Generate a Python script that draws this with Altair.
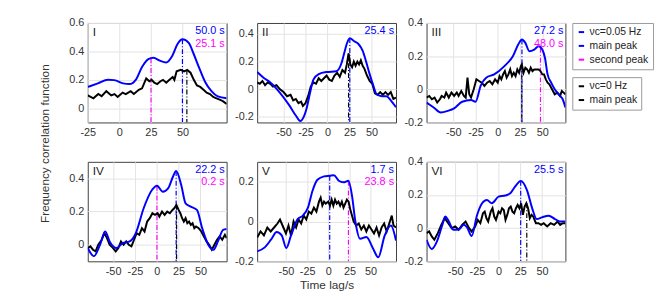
import altair as alt
import pandas as pd

# ---------------- data ----------------
LEGEND_A_KEYS = ["\u03bdc=0.05 Hz", "main peak", "second peak"]
LEGEND_A_COLORS = ["#0000ff", "#0000ff", "#ff00ff"]
LEGEND_B_KEYS = ["\u03bdc=0 Hz", "main peak"]
LEGEND_B_COLORS = ["#000000", "#000000"]

P1_BLUE = [(-25, 0.15), (-17, 0.175), (-9, 0.2), (-4, 0.198), (3, 0.175), (8, 0.17), (13, 0.2),
           (18, 0.29), (23, 0.345), (27, 0.355), (32, 0.335), (37, 0.322), (42, 0.37), (46, 0.45),
           (50, 0.485), (55, 0.46), (59, 0.38), (63, 0.29), (68, 0.185), (73, 0.12), (78, 0.083), (85, 0.07)]
P1_BLACK = [(-25, 0.09), (-20.5, 0.07), (-16.7, 0.1), (-14, 0.085), (-10.3, 0.12), (-6.4, 0.09), (-3.8, 0.1),
            (-1.3, 0.08), (2.6, 0.11), (5.1, 0.1), (9, 0.12), (11.5, 0.1), (15.4, 0.13), (18, 0.14),
            (21.3, 0.21), (23.8, 0.19), (25.6, 0.2), (27.7, 0.18), (30, 0.17), (32.6, 0.19), (34.6, 0.2),
            (37.2, 0.18), (39.7, 0.2), (42.3, 0.22), (43.6, 0.2), (45.4, 0.26), (48.7, 0.27), (51.3, 0.26),
            (53.8, 0.27), (56.4, 0.25), (59, 0.2), (61.5, 0.16), (64.1, 0.15), (66.7, 0.13), (69.2, 0.11),
            (71.8, 0.1), (74.4, 0.08), (77, 0.07), (79.5, 0.06), (82, 0.05), (85, 0.03)]
P1_PEAKS = [(25.1, 0.352, "second peak"), (50.0, 0.485, "main peak")]
P1_BPEAK = [(53.5, 0.27)]
P1_TEXT = [("50.0 s", "#0000ff"), ("25.1 s", "#ff00ff")]

P2_BLUE = [(-80, 0.125), (-72, 0.08), (-65, 0.05), (-54, -0.025), (-43, -0.12), (-36, -0.19), (-31, -0.23),
           (-27, -0.2), (-24, -0.145), (-20, -0.03), (-16, 0.07), (-10, 0.11), (-1, 0.125), (10, 0.13),
           (16, 0.19), (19, 0.26), (22, 0.33), (25.4, 0.37), (30, 0.35), (35, 0.33), (40, 0.28), (44, 0.2),
           (48, 0.11), (52, 0.03), (56, -0.036), (62, -0.05), (67, -0.05), (72, -0.08), (78, -0.13)]
P2_BLACK = [(-80, 0.05), (-77, 0.04), (-74, 0.06), (-71, 0.03), (-68, 0.05), (-65, 0.04), (-62, 0.02),
            (-58, 0.03), (-54, 0.0), (-50, -0.02), (-46, -0.05), (-42, -0.04), (-39, -0.08), (-36, -0.07),
            (-33, -0.1), (-30, -0.09), (-28, -0.12), (-25, -0.1), (-22, -0.05), (-19, 0.02), (-16, 0.05),
            (-13, 0.04), (-10, 0.08), (-7, 0.06), (-4, 0.08), (-1, 0.1), (2, 0.07), (5, 0.06), (8, 0.1),
            (11, 0.12), (14, 0.09), (17, 0.14), (20, 0.12), (22, 0.18), (24, 0.26), (26, 0.18), (28, 0.16),
            (30, 0.2), (32, 0.17), (34, 0.2), (36, 0.18), (38, 0.21), (40, 0.17), (42, 0.15), (45, 0.1),
            (48, 0.06), (51, 0.04), (54, -0.03), (57, -0.04), (60, -0.02), (63, -0.04), (66, -0.02),
            (69, -0.04), (72, -0.02), (75, -0.07), (78, -0.06)]
P2_PEAKS = [(25.4, 0.37, "main peak")]
P2_BPEAK = [(24.0, 0.26)]
P2_TEXT = [("25.4 s", "#0000ff")]

P3_BLUE = [(-80, -0.08), (-72, -0.11), (-64, -0.14), (-56, -0.13), (-49, -0.115), (-40, -0.075), (-30, -0.065),
           (-25, -0.075), (-19, 0.024), (-13, 0.07), (-4, 0.09), (7.5, 0.14), (17, 0.2), (23, 0.27),
           (27.2, 0.3), (31, 0.28), (35.5, 0.23), (41, 0.24), (46, 0.26), (50, 0.24), (53, 0.19), (56, 0.09),
           (60, 0.04), (64, 0.0), (70, -0.04), (73, -0.06), (76, -0.11)]
P3_BLACK = [(-80, -0.05), (-77, -0.04), (-74, -0.06), (-71, -0.05), (-68, -0.08), (-65, -0.06), (-63, -0.04),
            (-60, -0.05), (-58, -0.02), (-55, -0.05), (-52, -0.02), (-49, -0.04), (-46, -0.02), (-44, -0.04),
            (-41, -0.01), (-38, -0.04), (-36, -0.05), (-34, 0.07), (-32, -0.03), (-30, -0.05), (-27, 0.0),
            (-24, 0.06), (-21, 0.05), (-18, 0.04), (-15, 0.02), (-12, 0.04), (-9, 0.05), (-6, 0.03),
            (-3, 0.06), (0, 0.04), (2, 0.08), (4, 0.06), (6, 0.09), (8, 0.11), (10, 0.07), (12, 0.09),
            (14, 0.12), (16, 0.08), (18, 0.1), (20, 0.08), (22, 0.12), (24, 0.1), (26, 0.14), (27, 0.15),
            (29, 0.1), (31, 0.13), (33, 0.12), (35, 0.1), (37, 0.13), (39, 0.11), (41, 0.12), (43, 0.12),
            (46, 0.12), (48, 0.11), (50, 0.09), (52, 0.09), (54, 0.06), (56, 0.04), (58, 0.03), (61, 0.0),
            (64, -0.03), (67, -0.02), (70, -0.04), (72, -0.01), (74, -0.02), (76, -0.03)]
P3_PEAKS = [(27.2, 0.3, "main peak"), (48.0, 0.25, "second peak")]
P3_BPEAK = [(27.0, 0.15)]
P3_TEXT = [("27.2 s", "#0000ff"), ("48.0 s", "#ff00ff")]

P4_BLUE = [(-79, -0.02), (-72, -0.07), (-65, 0.0), (-59, 0.08), (-54, 0.02), (-46, -0.02), (-39, 0.01),
           (-31, 0.02), (-24, 0.07), (-15, 0.22), (-5.5, 0.33), (0.2, 0.356), (7, 0.32), (13, 0.34),
           (18.5, 0.41), (22.2, 0.445), (28, 0.36), (33, 0.25), (39, 0.23), (46, 0.21), (52, 0.1),
           (59, 0.0), (65, -0.03), (70, 0.02), (76, 0.09), (80, 0.095)]
P4_BLACK = [(-79, -0.02), (-76, -0.01), (-73, -0.03), (-70, -0.04), (-67, 0.0), (-63, 0.03), (-60, 0.07),
            (-57, 0.04), (-54, 0.0), (-50, -0.02), (-47, -0.04), (-44, -0.02), (-41, 0.02), (-38, 0.0),
            (-35, 0.02), (-32, 0.0), (-29, -0.01), (-26, 0.03), (-23, 0.07), (-20, 0.06), (-17, 0.1),
            (-14, 0.08), (-11, 0.14), (-8, 0.16), (-5, 0.19), (-2, 0.18), (1, 0.19), (3, 0.17), (6, 0.2),
            (9, 0.18), (12, 0.2), (15, 0.19), (18, 0.21), (20, 0.22), (22.5, 0.24), (25, 0.21), (27, 0.19),
            (29, 0.16), (31, 0.14), (33, 0.16), (35, 0.13), (37, 0.14), (39, 0.12), (41, 0.13), (43, 0.1),
            (45, 0.11), (48, 0.1), (51, 0.08), (54, 0.05), (57, 0.02), (60, 0.0), (63, -0.03), (66, 0.0),
            (69, 0.03), (72, 0.05), (75, 0.03), (78, 0.06), (80, 0.04)]
P4_PEAKS = [(0.2, 0.356, "second peak"), (22.2, 0.445, "main peak")]
P4_BPEAK = [(22.7, 0.24)]
P4_TEXT = [("22.2 s", "#0000ff"), ("0.2 s", "#ff00ff")]

P5_BLUE = [(-84, -0.15), (-75, -0.13), (-67, -0.087), (-61, -0.053), (-55, -0.07), (-49.6, -0.133),
           (-44, -0.07), (-36, 0.013), (-30, 0.03), (-24, 0.07), (-18.6, 0.155), (-12.8, 0.21), (-5, 0.227),
           (1.7, 0.23), (6.6, 0.233), (12.4, 0.205), (18, 0.197), (23.8, 0.205), (28, 0.13), (32, 0.0),
           (37.6, -0.087), (45, -0.078), (53, -0.137), (59, -0.18), (66.7, -0.07), (74, -0.02), (80, -0.095)]
P5_BLACK = [(-84, -0.08), (-80, -0.05), (-76, -0.07), (-72, -0.03), (-68, -0.05), (-64, -0.03), (-60, -0.01),
            (-57, 0.01), (-53, -0.03), (-50, -0.06), (-47, -0.02), (-44, -0.07), (-41, 0.0), (-38, -0.03),
            (-35, 0.01), (-32, -0.01), (-29, 0.03), (-26, 0.01), (-23, 0.05), (-20, 0.04), (-17, 0.07),
            (-14, 0.05), (-11, 0.1), (-9, 0.12), (-7, 0.08), (-5, 0.1), (-3, 0.09), (0, 0.1), (2, 0.08),
            (4, 0.11), (6, 0.08), (8, 0.11), (10, 0.09), (12, 0.1), (14, 0.08), (16, 0.1), (18, 0.07),
            (20, 0.09), (22, 0.11), (24, 0.1), (26, 0.06), (28, 0.03), (30, 0.0), (33, -0.02), (36, -0.01),
            (39, -0.04), (42, -0.02), (45, -0.05), (48, -0.02), (51, -0.04), (54, -0.06), (57, -0.03),
            (60, -0.07), (63, -0.03), (66, -0.01), (69, -0.05), (72, -0.01), (75, 0.03), (77, -0.02), (80, -0.03)]
P5_PEAKS = [(1.7, 0.23, "main peak"), (23.8, 0.205, "second peak")]
P5_BPEAK = []
P5_TEXT = [("1.7 s", "#0000ff"), ("23.8 s", "#ff00ff")]

P6_BLUE = [(-83, -0.07), (-77, -0.126), (-71, -0.08), (-65, 0.016), (-61.5, 0.07), (-57.7, 0.045), (-52, -0.01),
           (-46, -0.008), (-40, 0.02), (-36.5, 0.006), (-31, -0.047), (-25, 0.075), (-19, 0.15), (-13.5, 0.17),
           (-7.7, 0.15), (0, 0.19), (7.7, 0.197), (13.5, 0.21), (19, 0.25), (25.5, 0.285), (32.7, 0.23),
           (38.5, 0.124), (44, 0.055), (50, 0.065), (57.7, 0.075), (65, 0.055), (71, 0.04), (77, 0.04)]
P6_BLACK = [(-83, -0.03), (-80, -0.02), (-77, -0.05), (-74, -0.07), (-70, -0.03), (-66, 0.02), (-62, 0.06),
            (-58, 0.03), (-54, 0.0), (-50, 0.01), (-46, -0.01), (-42, 0.02), (-38, 0.04), (-34, 0.0),
            (-31, -0.02), (-27, 0.01), (-24, 0.05), (-21, 0.03), (-18, 0.09), (-16, 0.1), (-14, 0.06),
            (-12, 0.04), (-9, 0.1), (-7, 0.12), (-5, 0.07), (-3, 0.05), (0, 0.1), (2, 0.09), (4, 0.12),
            (6, 0.11), (8, 0.05), (10, 0.08), (12, 0.12), (14, 0.13), (16, 0.1), (18, 0.09), (20, 0.12),
            (22, 0.14), (24, 0.12), (26, 0.15), (28, 0.08), (30, 0.13), (32, 0.15), (34, 0.12), (36, 0.06),
            (38, 0.08), (40, 0.07), (43, 0.03), (46, 0.03), (49, 0.02), (52, 0.03), (56, 0.01), (60, 0.03),
            (64, 0.02), (68, 0.04), (71, 0.02), (74, 0.03), (77, 0.03)]
P6_PEAKS = [(25.5, 0.285, "main peak")]
P6_BPEAK = [(32.5, 0.15)]
P6_TEXT = [("25.5 s", "#0000ff")]

PANEL_NAMES = ["I", "II", "III", "IV", "V", "VI"]
X_DOMAINS = [[-25, 85], [-80, 78], [-80, 76], [-79, 80], [-84, 80], [-83, 77]]
Y_DOMAINS = [[-0.1, 0.6], [-0.24, 0.48], [-0.2, 0.4], [-0.1, 0.5], [-0.2, 0.3], [-0.2, 0.4]]
X_TICKS = [[-25, 0, 25, 50], [-50, -25, 0, 25, 50], [-50, -25, 0, 25, 50],
           [-50, -25, 0, 25, 50], [-50, -25, 0, 25, 50], [-50, -25, 0, 25, 50]]
Y_TICKS = [[0, 0.2, 0.4, 0.6], [-0.2, 0, 0.2, 0.4], [-0.2, 0, 0.2, 0.4],
           [0, 0.2, 0.4], [-0.2, 0, 0.2], [-0.2, 0, 0.2, 0.4]]

BLUES = [P1_BLUE, P2_BLUE, P3_BLUE, P4_BLUE, P5_BLUE, P6_BLUE]
BLACKS = [P1_BLACK, P2_BLACK, P3_BLACK, P4_BLACK, P5_BLACK, P6_BLACK]
PEAKS = [P1_PEAKS, P2_PEAKS, P3_PEAKS, P4_PEAKS, P5_PEAKS, P6_PEAKS]
BPEAKS = [P1_BPEAK, P2_BPEAK, P3_BPEAK, P4_BPEAK, P5_BPEAK, P6_BPEAK]
TEXTS = [P1_TEXT, P2_TEXT, P3_TEXT, P4_TEXT, P5_TEXT, P6_TEXT]

W, H = 141, 101
FONT = "Liberation Sans"
AXIS_COLOR = "#333333"
DASHDOT = [5, 2, 1, 2]

scale_a = alt.Scale(domain=LEGEND_A_KEYS, range=LEGEND_A_COLORS)
scale_b = alt.Scale(domain=LEGEND_B_KEYS, range=LEGEND_B_COLORS)
legend_a = alt.Legend(title=None, symbolType="stroke", orient="right")
legend_b = alt.Legend(title=None, symbolType="stroke", orient="right")


def make_panel(i):
    blue = pd.DataFrame(BLUES[i], columns=["lag", "val"])
    blue["s"] = LEGEND_A_KEYS[0]
    black = pd.DataFrame(BLACKS[i], columns=["lag", "val"])
    black["s"] = LEGEND_B_KEYS[0]
    peaks = pd.DataFrame(PEAKS[i], columns=["lag", "val", "s"])
    bpeaks = pd.DataFrame(BPEAKS[i], columns=["lag", "val"])
    bpeaks["s"] = LEGEND_B_KEYS[1]

    x_axis = dict(values=X_TICKS[i], grid=True, labelExpr="'' + datum.value", title=None)
    y_axis = dict(values=Y_TICKS[i], grid=True, labelExpr="'' + datum.value", title=None)
    if i == 4:
        x_axis["title"] = "Time lag/s"
    if i == 0:
        y_axis.update(title="Frequency correlation function", titleX=-37, titleY=122)

    x = alt.X("lag:Q", scale=alt.Scale(domain=X_DOMAINS[i], nice=False, zero=False),
              axis=alt.Axis(**x_axis))
    y = alt.Y("val:Q", scale=alt.Scale(domain=Y_DOMAINS[i], nice=False, zero=False),
              axis=alt.Axis(**y_axis))
    col_a = alt.Color("s:N", scale=scale_a, legend=legend_a)
    col_b = alt.Stroke("s:N", scale=scale_b, legend=legend_b)

    layers = []
    layers.append(alt.Chart(peaks).mark_rule(strokeDash=DASHDOT, strokeWidth=1.2, clip=True).encode(
        x=x, y=y, y2=alt.value(H), color=col_a))
    if len(bpeaks):
        layers.append(alt.Chart(bpeaks).mark_rule(strokeDash=DASHDOT, strokeWidth=1.2, clip=True).encode(
            x=x, y=y, y2=alt.value(H), stroke=col_b))
    layers.append(alt.Chart(black).mark_line(strokeWidth=2, clip=True).encode(x=x, y=y, stroke=col_b))
    layers.append(alt.Chart(blue).mark_line(strokeWidth=2, interpolate="monotone", clip=True).encode(
        x=x, y=y, color=col_a))

    name = alt.Chart(pd.DataFrame({"t": [PANEL_NAMES[i]]})).mark_text(
        align="left", baseline="middle", fontSize=12, color="#222222", font=FONT).encode(
        text="t:N", x=alt.value(5), y=alt.value(9))
    layers.append(name)
    for k, (txt, c) in enumerate(TEXTS[i]):
        t = alt.Chart(pd.DataFrame({"t": [txt]})).mark_text(
            align="right", baseline="middle", fontSize=11, color=c, font=FONT).encode(
            text="t:N", x=alt.value(W - 2), y=alt.value(8 + 13 * k))
        layers.append(t)

    return alt.layer(*layers).properties(width=W, height=H)


panels = [make_panel(i) for i in range(6)]

chart = alt.ConcatChart(
    concat=panels, columns=3, spacing={"row": 40, "column": 31}, bounds="flush"
).resolve_scale(
    color="shared", stroke="shared"
).properties(
    padding={"left": 30, "top": 6, "right": 2, "bottom": 2}
).configure(font=FONT).configure_view(
    stroke="#404040", strokeWidth=1
).configure_axis(
    labelFontSize=11, labelColor=AXIS_COLOR, labelFont=FONT, ticks=False, domain=False,
    gridColor="#e3e3e3", gridWidth=1, labelPadding=4, labelFlush=False,
    titleFontSize=12, titleFontWeight="normal", titleColor=AXIS_COLOR, titleFont=FONT
).configure_legend(
    offset=6, strokeColor="#9a9a9a", padding=4, labelFontSize=10.5, labelColor="#222222",
    labelFont=FONT, symbolStrokeWidth=2, symbolSize=30, rowPadding=3, fillColor="white",
    labelOffset=3
)

chart.save("out.html", embed_options={"renderer": "svg", "actions": False})
